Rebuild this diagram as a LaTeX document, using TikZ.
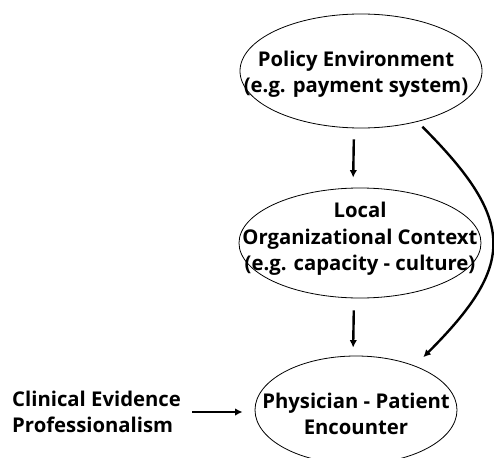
\documentclass[tikz,border=0pt]{standalone}
\usepackage{fontspec}
\setmainfont{Open Sans}
\usetikzlibrary{shapes.geometric,arrows.meta}
\tikzset{
  oval/.style={draw, ellipse, line width=0.8pt, inner sep=0pt},
  txt/.style={inner sep=0pt, align=center, font=\fontsize{20.3}{26.5}\selectfont\bfseries},
  flow/.style={-{Latex[length=7.5pt,width=7.5pt]}, line width=2.4pt},
}
\begin{document}
\begin{tikzpicture}[x=1pt,y=-1pt]
    \useasboundingbox (0,0) rectangle (494,457);
    \node[oval, minimum width=242pt, minimum height=114pt] (policy) at (361,71) {};
    \node[oval, minimum width=242pt, minimum height=110pt] (local) at (360,243) {};
    \node[oval, minimum width=202pt, minimum height=108pt] (physician) at (356,410) {};
    \node[txt] (policytext) at ([xshift=-5pt,yshift=-3pt]policy) {Policy Environment\\(e.g. payment system)};
    \node[txt] (localtext) at ([yshift=4pt]local) {Local\\Organizational Context\\(e.g. capacity - culture)};
    \node[txt] (physiciantext) at ([yshift=-4pt]physician) {Physician - Patient\\Encounter};
    \node[txt, align=left, anchor=west] (evidence) at (12,412) {Clinical Evidence\\Professionalism};
    \draw[flow, shorten <=11pt, shorten >=10pt] ([xshift=-7pt]policy.south) -- ([xshift=-7pt]local.north);
    \draw[flow, shorten <=12pt, shorten >=8pt] ([xshift=-6pt]local.south) -- ([xshift=-3pt]physician.north);
    \draw[flow, shorten <=7pt, shorten >=12pt] (policy.-42) .. controls +(100,100) and +(100,-100) .. (physician.37);
    \draw[flow, shorten <=11pt, shorten >=12pt] (evidence.east) -- (evidence.east -| physician.west);
\end{tikzpicture}
\end{document}
